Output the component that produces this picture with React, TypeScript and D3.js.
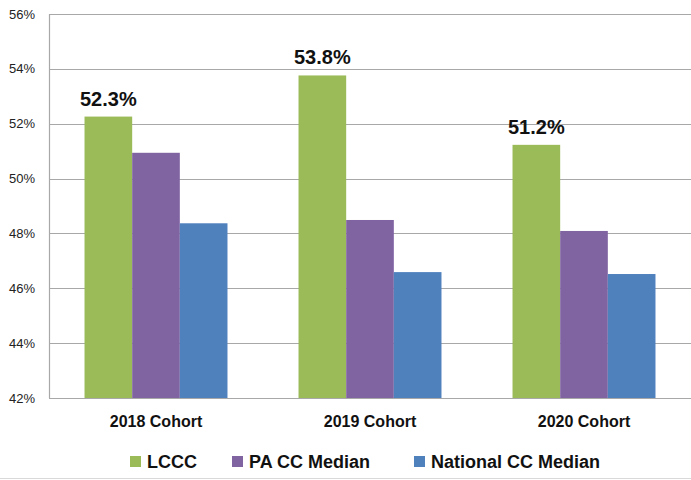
import React from 'react';
import * as d3 from 'd3';

const categories = ['2018 Cohort', '2019 Cohort', '2020 Cohort'];
const seriesNames = ['LCCC', 'PA CC Median', 'National CC Median'];
const lccc = [52.26, 53.76, 51.23];
const paMedian = [50.94, 48.49, 48.09];
const nationalMedian = [48.37, 46.59, 46.52];
const yTicks = [42, 44, 46, 48, 50, 52, 54, 56];
const colors = ['#9BBB59', '#8064A2', '#4F81BD'];

const width = 691;
const height = 480;
const font = '"Liberation Sans", Arial, sans-serif';

const App = () => {
    const series = [lccc, paMedian, nationalMedian];

    const x = d3.scaleBand()
        .domain(categories)
        .range([49, 691])
        .paddingInner(0.332)
        .paddingOuter(0.166);

    const xInner = d3.scaleBand()
        .domain(seriesNames)
        .range([0, x.bandwidth()])
        .padding(0);

    const y = d3.scaleLinear()
        .domain([42, 56])
        .range([398, 14]);

    // legend layout (square start, text start)
    const legendX = [130, 232, 414];

    return (
        <svg width={width} height={height} style={{ position: 'absolute', left: 0, top: 0, background: '#fff' }}>
            {/* gridlines */}
            {yTicks.map(t => (
                <g key={t}>
                    <line x1={49} x2={691} y1={Math.round(y(t)) + 0.5} y2={Math.round(y(t)) + 0.5}
                        stroke="#a8a8a8" strokeWidth={1.2} />
                    <text x={35} y={y(t)} dy="0.35em" textAnchor="end"
                        fontFamily={font} fontSize={13} fill="#222">{t}%</text>
                </g>
            ))}
            <line x1={49.5} x2={49.5} y1={14} y2={398} stroke="#a8a8a8" strokeWidth={1.2} />

            {/* bars */}
            {categories.map((c, i) => (
                <g key={c} transform={`translate(${x(c)},0)`}>
                    {series.map((s, j) => (
                        <rect key={j}
                            x={xInner(seriesNames[j])}
                            y={y(s[i])}
                            width={xInner.bandwidth()}
                            height={y(42) - y(s[i])}
                            fill={colors[j]} />
                    ))}
                    <text x={xInner('LCCC') + xInner.bandwidth() / 2} y={y(lccc[i]) - 11}
                        textAnchor="middle" fontFamily={font} fontWeight="bold" fontSize={20} fill="#111">
                        {lccc[i].toFixed(1)}%
                    </text>
                    <text x={x.bandwidth() / 2} y={427} textAnchor="middle"
                        fontFamily={font} fontWeight="bold" fontSize={16} fill="#111">{c}</text>
                </g>
            ))}

            {/* legend */}
            {seriesNames.map((name, j) => (
                <g key={name} transform={`translate(${legendX[j]},456)`}>
                    <rect x={0} y={0} width={11} height={11} fill={colors[j]} />
                    <text x={17} y={5.5} dy="0.36em" fontFamily={font} fontWeight="bold"
                        fontSize={18} fill="#111">{name}</text>
                </g>
            ))}

            <line x1={0} x2={691} y1={478.5} y2={478.5} stroke="#d9d9d9" strokeWidth={1} />
        </svg>
    );
};

export default App;
